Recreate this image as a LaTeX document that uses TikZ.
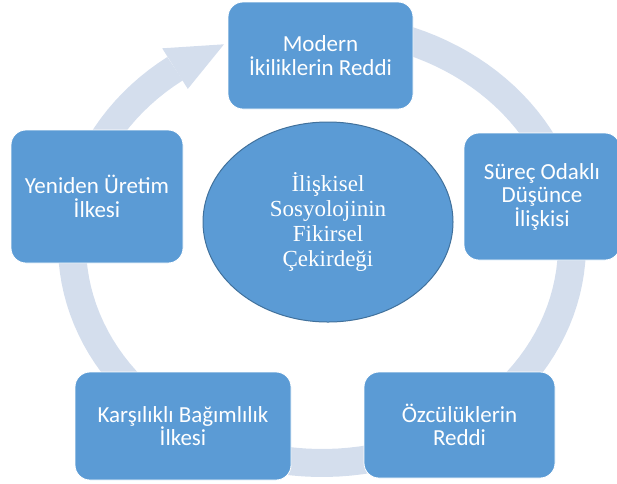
\documentclass[tikz,border=0pt]{standalone}
\usepackage{fontspec}
\setmainfont{Liberation Serif}
\newfontfamily\boxfont{Carlito}
\usetikzlibrary{shapes.geometric}
\definecolor{boxblue}{HTML}{5B9BD5}
\definecolor{coreline}{HTML}{41719C}
\definecolor{ringblue}{HTML}{D4DEED}

\begin{document}
\begin{tikzpicture}[x=1pt, y=-1pt,
    box/.style={rectangle, rounded corners=15pt, fill=boxblue, draw=white, line width=0.8pt,
      text=white, align=center, font=\boxfont\fontsize{23}{23.5}\selectfont},
    core/.style={ellipse, fill=boxblue, draw=coreline, line width=1pt, text=white,
      align=center, inner sep=0pt, font=\fontsize{23}{25}\selectfont},
    ring/.style={draw=ringblue, line width=28pt}]
    \useasboundingbox (0,0) rectangle (617,483);

    % 輪と矢印
    \draw[ring] plot[domain=-234:80, samples=120] ({322+250*cos(\x)}, {245-218*sin(\x)});
    \coordinate (out) at (162.2,48.3);
    \coordinate (tip) at (224,44.3);
    \coordinate (in) at (187.8,88.9);
    \fill[ringblue] (out) -- (tip) -- (in) -- cycle;

    \node[core, minimum width=250pt, minimum height=200pt] (C) at (328,222)
      {İlişkisel\\Sosyolojinin\\Fikirsel\\Çekirdeği};

    \node[box, minimum width=185pt, minimum height=107pt] (M) at (320.5,55.5) {Modern\\İkiliklerin Reddi};
    \node[box, minimum width=156pt, minimum height=127pt] (S) at (542,196.5) {Süreç Odaklı\\Düşünce\\İlişkisi};
    \node[box, minimum width=191pt, minimum height=106pt] (O) at (459.5,425) {Özcülüklerin\\Reddi};
    \node[box, minimum width=216pt, minimum height=108pt] (K) at (183,426) {Karşılıklı Bağımlılık\\İlkesi};
    \node[box, minimum width=172pt, minimum height=133pt] (Y) at (97,196.5) {Yeniden Üretim\\İlkesi};
\end{tikzpicture}
\end{document}
